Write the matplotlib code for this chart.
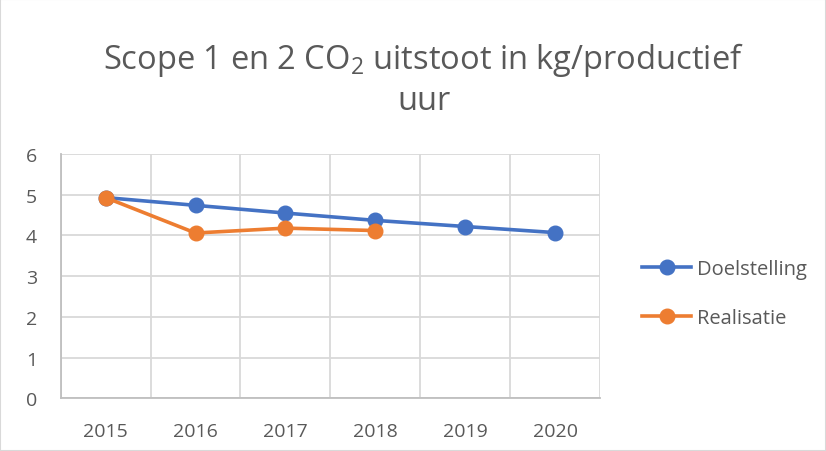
import numpy as np
import matplotlib
matplotlib.use("Agg")
import matplotlib.pyplot as plt
from matplotlib.patches import Rectangle

years = ["2015", "2016", "2017", "2018", "2019", "2020"]
doelstelling = [4.93, 4.74, 4.55, 4.37, 4.22, 4.07]
realisatie = [4.93, 4.06, 4.18, 4.12]

blue = "#4472C4"
orange = "#ED7D31"
grey_text = "#595959"

plt.rcParams["font.family"] = ["Open Sans", "DejaVu Sans"]
plt.rcParams["mathtext.fontset"] = "custom"
plt.rcParams["mathtext.rm"] = "Open Sans"

fig = plt.figure(figsize=(8.26, 4.52), dpi=100)
fig.patches.append(Rectangle((0, 0), 1, 1, transform=fig.transFigure, fill=False,
                             edgecolor="#D9D9D9", linewidth=1.5))
ax = fig.add_axes([0.0735, 0.1166, 0.6529, 0.5404])

x = np.arange(len(years))
ax.plot(x, doelstelling, color=blue, lw=2.6, marker="o", ms=10.5, label="Doelstelling", zorder=3)
ax.plot(x[:len(realisatie)], realisatie, color=orange, lw=2.6, marker="o", ms=10.5,
        label="Realisatie", zorder=4)

ax.set_xlim(-0.5, len(years) - 0.5)
ax.set_ylim(0, 6)
ax.set_yticks(range(0, 7))
ax.set_xticks(x)
ax.set_xticklabels(years)
ax.set_xticks(np.arange(-0.5, len(years)), minor=True)
ax.grid(True, axis="y", color="#D9D9D9", lw=1.3)
ax.grid(True, axis="x", which="minor", color="#D9D9D9", lw=1.3)
ax.set_axisbelow(True)
ax.tick_params(which="both", length=0)
ax.tick_params(axis="y", labelsize=14, colors=grey_text, pad=17)
ax.tick_params(axis="x", labelsize=14, colors=grey_text, pad=17)
for s in ["top", "right"]:
    ax.spines[s].set_visible(False)
for s in ["left", "bottom"]:
    ax.spines[s].set_color("#BFBFBF")
    ax.spines[s].set_linewidth(1.3)

fig.text(0.513, 0.824, "Scope 1 en 2 CO$_2$ uitstoot in kg/productief\nuur", ha="center", va="center",
         fontsize=23.5, color=grey_text, linespacing=1.25)

ax.legend(loc="center left", bbox_to_anchor=(1.045, 0.43), frameon=False, fontsize=14.5,
          labelcolor=grey_text, handlelength=2.4, handletextpad=0.3, labelspacing=1.45)

fig.savefig("out.png", dpi=100)
